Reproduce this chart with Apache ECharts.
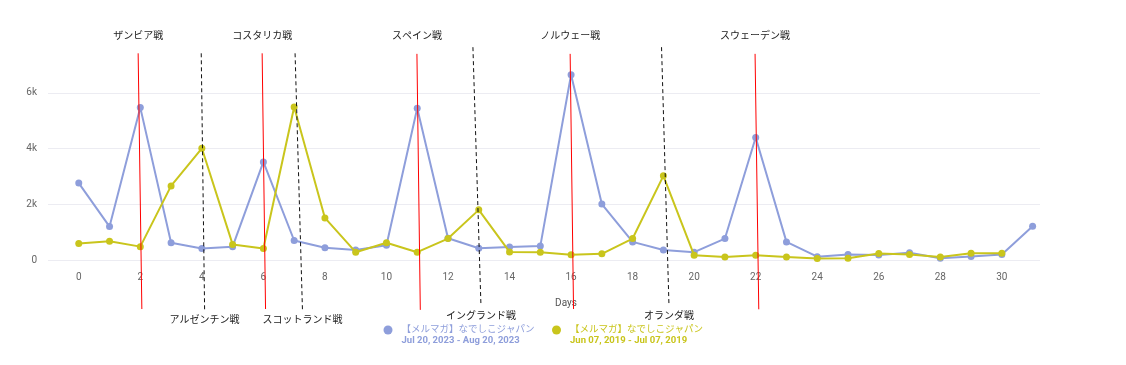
<!DOCTYPE html>
<html>
<head>
<meta charset="utf-8">
<script src="https://cdn.jsdelivr.net/npm/echarts@6/dist/echarts.min.js"></script>
<style>
html,body{margin:0;padding:0;background:#fff;}
#c{width:1126px;height:365px;}
</style>
</head>
<body>
<div id="c"></div>
<script>
// ---- data ----
const seriesTitle = '【メルマガ】なでしこジャパン';
const rangeBlue = 'Jul 20, 2023 - Aug 20, 2023';
const rangeYellow = 'Jun 07, 2019 - Jul 07, 2019';
const blueValues = [2760, 1200, 5470, 620, 410, 480, 3520, 700, 440, 360, 530, 5450, 780, 420, 470, 500, 6650, 2010, 650, 360, 280, 770, 4400, 650, 120, 200, 180, 260, 60, 130, 200, 1210];
const yellowValues = [590, 670, 480, 2660, 4010, 560, 410, 5490, 1510, 280, 620, 280, 770, 1800, 290, 280, 190, 220, 770, 3020, 170, 110, 170, 110, 50, 60, 230, 200, 110, 240, 240];
const xTickLabels = [0, 2, 4, 6, 8, 10, 12, 14, 16, 18, 20, 22, 24, 26, 28, 30];
const yTickLabels = { 0: '0', 2000: '2k', 4000: '4k', 6000: '6k' };

// annotation lines (match days, 2023 = red solid, 2019 = black dashed)
const redLabels = ['ザンビア戦', 'コスタリカ戦', 'スペイン戦', 'ノルウェー戦', 'スウェーデン戦'];
const redTopX = [1.93, 5.96, 10.99, 15.97, 21.98];
const redBottomX = [2.05, 6.07, 11.10, 16.08, 22.10];
const redTopY = [7420, 7420, 7400, 7400, 7400];
const redBottomY = [-1760, -1760, -1790, -1760, -1770];
const blackLabels = ['アルゼンチン戦', 'スコットランド戦', 'イングランド戦', 'オランダ戦'];
const blackTopX = [3.98, 7.03, 12.81, 18.94];
const blackBottomX = [4.09, 7.27, 13.07, 19.18];
const blackTopY = [7420, 7420, 7640, 7640];
const blackBottomY = [-1800, -1800, -1600, -1560];
const blackLabelGap = [5, 5, 7, 8];

const BLUE = '#8e9edb';
const YELLOW = '#c9c51c';
const FONT = 'Roboto, "Noto Sans CJK JP", sans-serif';

const chart = echarts.init(document.getElementById('c'));

function pairs(vals) { return vals.map((v, i) => [i, v]); }

const annoSeries = [];
redLabels.forEach((lab, i) => {
  annoSeries.push({
    type: 'line', name: 'r' + i, clip: false, silent: true, z: 10,
    symbol: 'circle', symbolSize: 0, showSymbol: true,
    lineStyle: { color: '#ff0000', width: 1 },
    itemStyle: { color: '#ff0000' },
    emphasis: { disabled: true },
    data: [
      [redBottomX[i], redBottomY[i]],
      { value: [redTopX[i], redTopY[i]], label: { show: true, position: 'top', distance: 12, formatter: lab, color: '#222', fontSize: 10, fontFamily: FONT } }
    ]
  });
});
blackLabels.forEach((lab, i) => {
  annoSeries.push({
    type: 'line', name: 'k' + i, clip: false, silent: true, z: 10,
    symbol: 'circle', symbolSize: 0, showSymbol: true,
    lineStyle: { color: '#111', width: 1, type: [4, 3] },
    itemStyle: { color: '#111' },
    emphasis: { disabled: true },
    data: [
      [blackTopX[i], blackTopY[i]],
      { value: [blackBottomX[i], blackBottomY[i]], label: { show: true, position: 'bottom', distance: blackLabelGap[i], formatter: lab, color: '#222', fontSize: 10, fontFamily: FONT } }
    ]
  });
});

function legendStyle(color) {
  return {
    rich: {
      s: { fontSize: 10, lineHeight: 11 },
      p: { width: 4, fontSize: 9.5, lineHeight: 11 },
      a: { color: color, fontSize: 9.5, lineHeight: 11, fontFamily: FONT },
      b: { color: color, fontSize: 9.5, fontWeight: 'bold', lineHeight: 11, fontFamily: FONT }
    }
  };
}

chart.setOption({
  animation: false,
  backgroundColor: '#fff',
  textStyle: { fontFamily: FONT },
  grid: { left: 48, right: 86, top: 65, bottom: 105, containLabel: false },
  xAxis: {
    type: 'value', min: -1, max: 31.24, interval: 1,
    name: 'Days', nameLocation: 'middle', nameGap: 38,
    nameTextStyle: { color: '#555', fontSize: 10, padding: [0, 0, 0, 44] },
    axisLine: { show: false }, axisTick: { show: false },
    splitLine: { show: false },
    axisLabel: {
      color: '#666', fontSize: 10, margin: 12,
      showMinLabel: true, showMaxLabel: true,
      formatter: v => (xTickLabels.indexOf(v) >= 0 ? String(v) : '')
    }
  },
  yAxis: {
    type: 'value', min: 0, max: 7000, interval: 2000,
    axisLine: { show: false }, axisTick: { show: false },
    splitLine: { show: true, showMaxLine: false, lineStyle: { color: '#ececf2', width: 1 } },
    axisLabel: {
      color: '#666', fontSize: 10, margin: 11,
      formatter: v => (yTickLabels[v] !== undefined ? yTickLabels[v] : '')
    }
  },
  legend: {
    data: [
      { name: rangeBlue, textStyle: legendStyle(BLUE), itemStyle: { color: BLUE } },
      { name: rangeYellow, textStyle: legendStyle(YELLOW), itemStyle: { color: YELLOW } }
    ],
    left: 383.5, top: 314, padding: 0, itemGap: 17.5,
    icon: 'circle', itemWidth: 9, itemHeight: 9,
    formatter: name => '{s| }\n{p| }{a|' + seriesTitle + '}\n{p| }{b|' + name + '}'
  },
  series: [
    {
      type: 'line', name: rangeBlue, data: pairs(blueValues),
      symbol: 'circle', symbolSize: 7, showSymbol: true,
      lineStyle: { color: BLUE, width: 2 }, itemStyle: { color: BLUE }, z: 2
    },
    {
      type: 'line', name: rangeYellow, data: pairs(yellowValues),
      symbol: 'circle', symbolSize: 7, showSymbol: true,
      lineStyle: { color: YELLOW, width: 2 }, itemStyle: { color: YELLOW }, z: 3
    }
  ].concat(annoSeries)
});
</script>
</body>
</html>
